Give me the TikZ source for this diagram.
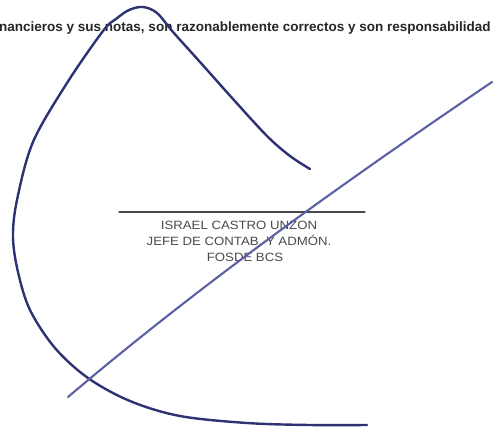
\documentclass[tikz,border=0pt]{standalone}
\usepackage{fontspec}
\setmainfont{Liberation Sans}
\newfontfamily\signfont[FakeStretch=1.1]{Liberation Sans}
\definecolor{ink}{HTML}{2E3272}
\definecolor{inklight}{HTML}{5A5FA6}
\definecolor{printgrey}{HTML}{4A4A4A}
\tikzset{
	printed/.style={inner sep=0pt,anchor=base,text=printgrey,font=\signfont\fontsize{12}{16}\selectfont},
	pen/.style={ink,line width=2.4pt},
}
\begin{document}
\begin{tikzpicture}[x=1pt,y=-1pt,line cap=round,line join=round]
		\useasboundingbox[fill=white] (0,0) rectangle (495,429);
		% texto impreso
		\node[inner sep=0pt,anchor=base west,text=black!85,font=\fontsize{13.5}{16}\selectfont\bfseries] (head) at (-1,31) {nancieros y sus notas, son razonablemente correctos y son responsabilidad};
		\coordinate (ruleL) at (119,212);
		\coordinate (ruleR) at (365,212);
		\draw[printgrey,line width=1.2pt] (ruleL)--(ruleR);
		\node[printed] (name) at (239,229) {ISRAEL CASTRO UNZON};
		\node[printed] (post) at (239,245) {JEFE DE CONTAB. Y ADMÓN.};
		\node[printed] (org) at (245,261) {FOSDE BCS};
		% firma
		\draw[pen] plot[smooth,tension=0.55] coordinates {(310,169) (290,156) (267,136) (233,99) (200,62) (173,32) (157,13) (143,7) (129,10) (116,19) (103,31) (67,83) (33,142) (17,200) (13,237) (18,272) (30,310) (55,348) (88,378) (130,401) (180,416) (247,423) (310,425) (367,425)};
		\draw[inklight,line width=2.1pt] (68,397) .. controls (200,285) and (340,185) .. (492,82);
		\end{tikzpicture}
\end{document}
